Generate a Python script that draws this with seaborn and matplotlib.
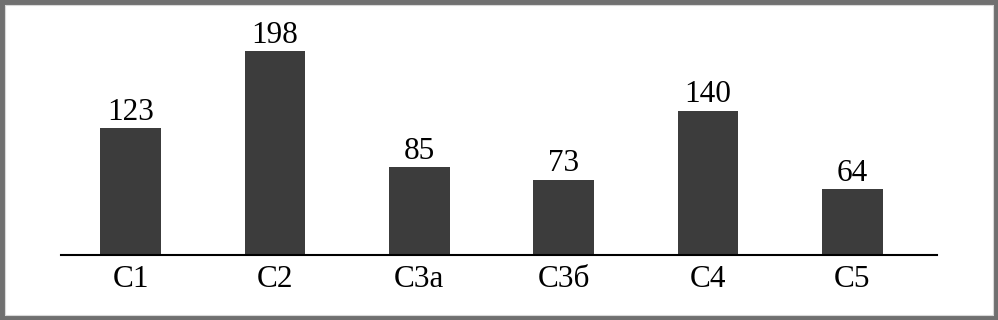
import matplotlib
matplotlib.use("Agg")
import matplotlib.pyplot as plt
import seaborn as sns
import pandas as pd
from matplotlib.patches import Rectangle

categories = ["С1", "С2", "С3а", "С3б", "С4", "С5"]
values = [123, 198, 85, 73, 140, 64]

sns.set_theme(style="white")
plt.rcParams["font.family"] = ["Liberation Serif", "DejaVu Serif"]

W, H = 998, 320
fig = plt.figure(figsize=(W / 100, H / 100), dpi=100)
fig.patch.set_facecolor("white")

ax_left, ax_right = 61, 937
ax_bottom, ax_top = 65, 310
ax = fig.add_axes([ax_left / W, ax_bottom / H, (ax_right - ax_left) / W, (ax_top - ax_bottom) / H])

df = pd.DataFrame({"cat": categories, "val": values})
sns.barplot(data=df, x="cat", y="val", color="#3c3c3c", saturation=1, width=0.42, ax=ax,
            edgecolor="#3c3c3c", linewidth=0)

ax.set_xlim(-0.482, 5.587)
ax.set_ylim(0, (ax_top - ax_bottom) / 1.03)

for i, v in enumerate(values):
    ax.annotate(str(v), (i, v), xytext=(0, 6), textcoords="offset points",
                ha="center", va="baseline", fontsize=22.5, color="black")

for s in ["top", "right", "left"]:
    ax.spines[s].set_visible(False)
ax.spines["bottom"].set_color("black")
ax.spines["bottom"].set_linewidth(1.5)
ax.set_yticks([])
ax.set_xlabel("")
ax.set_ylabel("")
ax.tick_params(axis="x", length=0, pad=7, labelsize=22.5, colors="black")
ax.set_facecolor("none")

# outer gray frame
fig.patches.append(Rectangle((0, 0), 1, 1, transform=fig.transFigure, fill=False,
                             edgecolor="#707070", linewidth=6.5, zorder=10))
fig.patches.append(Rectangle((5 / W, 5 / H), 1 - 10 / W, 1 - 10 / H, transform=fig.transFigure,
                             fill=False, edgecolor="#d8d8d8", linewidth=0.8, zorder=10))

fig.savefig("out.png", dpi=100)
